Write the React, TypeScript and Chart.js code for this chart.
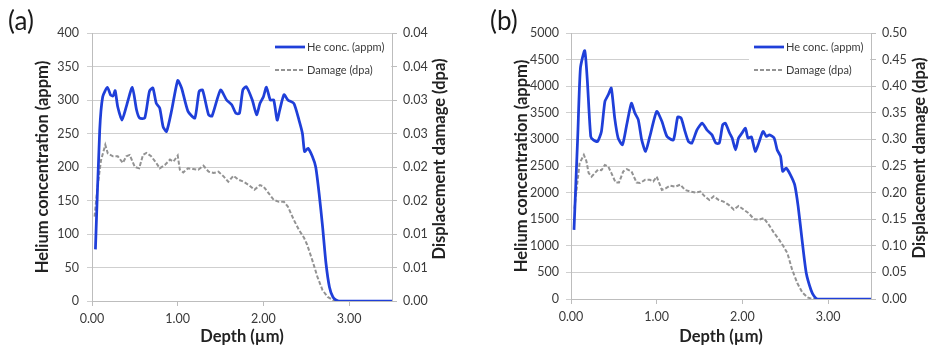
import React, { useEffect, useRef } from "react";
import { Chart, registerables } from "chart.js";

Chart.register(...registerables);

const FONT = "Lato, 'Open Sans', sans-serif";
const BLUE = "#1f3fd9";
const GRAY = "#939393";
const GRID = "#cfcfcf";
const AXIS = "#bdbdbd";
const TICK_TEXT = "#3a3a3a";
const TITLE_TEXT = "#222222";
const TITLE_SIZE = 16.5;

// ---------- tick values / labels ----------
const depthTicks = [0, 1, 2, 3];
const depthTickLabels = ["0.00", "1.00", "2.00", "3.00"];

const heTicksA = [0, 50, 100, 150, 200, 250, 300, 350, 400];
const heTickLabelsA = ["0", "50", "100", "150", "200", "250", "300", "350", "400"];
const dpaTicksA = [0, 0.005, 0.01, 0.015, 0.02, 0.025, 0.03, 0.035, 0.04];
const dpaTickLabelsA = ["0.00", "0.01", "0.01", "0.02", "0.02", "0.03", "0.03", "0.04", "0.04"];

const heTicksB = [0, 500, 1000, 1500, 2000, 2500, 3000, 3500, 4000, 4500, 5000];
const heTickLabelsB = ["0", "500", "1000", "1500", "2000", "2500", "3000", "3500", "4000", "4500", "5000"];
const dpaTicksB = [0, 0.05, 0.1, 0.15, 0.2, 0.25, 0.3, 0.35, 0.4, 0.45, 0.5];
const dpaTickLabelsB = ["0.00", "0.05", "0.10", "0.15", "0.20", "0.25", "0.30", "0.35", "0.40", "0.45", "0.50"];

// ---------- panel (a) data ----------
const heDepthA = [0.04, 0.09, 0.125, 0.18, 0.215, 0.245, 0.27, 0.3, 0.35, 0.4, 0.47, 0.52, 0.555, 0.615, 0.67, 0.71, 0.75, 0.79, 0.83, 0.87, 0.93, 1.0, 1.045, 1.12, 1.2, 1.25, 1.29, 1.36, 1.4, 1.5, 1.57, 1.63, 1.68, 1.72, 1.76, 1.8, 1.87, 1.92, 1.96, 2.0, 2.035, 2.08, 2.12, 2.16, 2.19, 2.24, 2.285, 2.355, 2.415, 2.455, 2.48, 2.52, 2.57, 2.61, 2.65, 2.69, 2.73, 2.77, 2.81, 2.845, 2.88, 3.0, 3.5];
const heConcA = [77, 255, 305, 319, 308, 306, 314, 290, 270, 290, 319, 285, 273, 273, 313, 318, 295, 288, 260, 253, 285, 329, 318, 283, 273, 313, 315, 278, 276, 315, 300, 293, 280, 280, 315, 320, 300, 278, 295, 305, 319, 300, 300, 270, 285, 308, 300, 295, 270, 250, 223, 228, 216, 200, 160, 111, 56, 21, 6, 1.5, 0, 0, 0];

const dmgDepthA = [0.03, 0.065, 0.105, 0.155, 0.185, 0.245, 0.3, 0.36, 0.4, 0.44, 0.5, 0.55, 0.595, 0.635, 0.69, 0.75, 0.79, 0.85, 0.91, 0.95, 1.0, 1.025, 1.065, 1.12, 1.18, 1.24, 1.3, 1.36, 1.42, 1.475, 1.535, 1.59, 1.65, 1.71, 1.77, 1.83, 1.895, 1.96, 2.0, 2.06, 2.12, 2.18, 2.24, 2.285, 2.355, 2.415, 2.475, 2.51, 2.57, 2.63, 2.69, 2.75, 2.81, 2.865, 3.0, 3.5];
const dmgA = [0.0126, 0.0171, 0.021, 0.0233, 0.022, 0.0216, 0.0216, 0.0206, 0.0216, 0.0218, 0.02, 0.0198, 0.0218, 0.0221, 0.0216, 0.0206, 0.0198, 0.0203, 0.0211, 0.0208, 0.0217, 0.0196, 0.0192, 0.0198, 0.0197, 0.0196, 0.0202, 0.0193, 0.0191, 0.0193, 0.0186, 0.0178, 0.0187, 0.0181, 0.0178, 0.0173, 0.0166, 0.0173, 0.0171, 0.0161, 0.0151, 0.0148, 0.0148, 0.0141, 0.0121, 0.0106, 0.0094, 0.0084, 0.0061, 0.0036, 0.0016, 0.0006, 0.00015, 0, 0, 0];

// ---------- panel (b) data ----------
const heDepthB = [0.035, 0.08, 0.11, 0.16, 0.19, 0.23, 0.26, 0.31, 0.355, 0.395, 0.435, 0.47, 0.51, 0.55, 0.6, 0.65, 0.705, 0.745, 0.785, 0.825, 0.87, 0.92, 1.0, 1.06, 1.12, 1.195, 1.245, 1.285, 1.33, 1.37, 1.41, 1.47, 1.53, 1.585, 1.645, 1.69, 1.73, 1.77, 1.8, 1.85, 1.88, 1.92, 1.955, 1.995, 2.035, 2.065, 2.105, 2.15, 2.19, 2.24, 2.28, 2.315, 2.37, 2.405, 2.445, 2.47, 2.51, 2.56, 2.61, 2.65, 2.7, 2.745, 2.8, 2.835, 2.875, 3.0, 3.5];
const heConcB = [1300, 3120, 4340, 4670, 4120, 3055, 2990, 2960, 3150, 3710, 3840, 3965, 3400, 3025, 2900, 3275, 3680, 3495, 3370, 2990, 2775, 3055, 3525, 3340, 3055, 2990, 3420, 3400, 3150, 2960, 2930, 3180, 3305, 3180, 3085, 2930, 2930, 3275, 3305, 3120, 3025, 2805, 3025, 3120, 3210, 3025, 3045, 2775, 2930, 3150, 3055, 3085, 3025, 2805, 2680, 2400, 2460, 2335, 2145, 1740, 1050, 485, 170, 56, 0, 0, 0];

const dmgDepthB = [0.04, 0.1, 0.15, 0.18, 0.205, 0.24, 0.28, 0.315, 0.355, 0.395, 0.435, 0.47, 0.52, 0.56, 0.61, 0.65, 0.705, 0.765, 0.805, 0.865, 0.92, 0.96, 1.0, 1.06, 1.105, 1.155, 1.215, 1.275, 1.33, 1.39, 1.45, 1.51, 1.56, 1.615, 1.665, 1.725, 1.78, 1.84, 1.9, 1.955, 2.015, 2.075, 2.135, 2.19, 2.25, 2.31, 2.37, 2.43, 2.475, 2.525, 2.58, 2.64, 2.7, 2.76, 2.815, 3.0, 3.5];
const dmgB = [0.17, 0.255, 0.271, 0.259, 0.237, 0.23, 0.237, 0.243, 0.242, 0.252, 0.249, 0.237, 0.219, 0.219, 0.24, 0.244, 0.24, 0.219, 0.218, 0.224, 0.224, 0.221, 0.23, 0.205, 0.208, 0.213, 0.211, 0.215, 0.205, 0.202, 0.2, 0.202, 0.193, 0.186, 0.193, 0.186, 0.183, 0.177, 0.168, 0.175, 0.168, 0.161, 0.15, 0.149, 0.152, 0.139, 0.124, 0.111, 0.1, 0.086, 0.055, 0.03, 0.012, 0.003, 0, 0, 0];

function zip(xs: number[], ys: number[]) {
  return xs.map((x, i) => ({ x, y: ys[i] }));
}

const legendPlugin = {
  id: "insideLegend",
  afterDatasetsDraw(chart: any) {
    const { ctx, chartArea } = chart;
    const r = chartArea.right;
    const t = chartArea.top;
    ctx.save();
    ctx.fillStyle = "#ffffff";
    ctx.fillRect(r - 122, t + 5, 121, 44);
    chart.data.datasets.forEach((ds: any, i: number) => {
      const y = t + 14 + i * 23;
      ctx.strokeStyle = ds.borderColor;
      ctx.lineWidth = ds.borderWidth;
      ctx.setLineDash(ds.borderDash || []);
      ctx.beginPath();
      ctx.moveTo(r - 117, y);
      ctx.lineTo(r - 87, y);
      ctx.stroke();
      ctx.setLineDash([]);
      ctx.fillStyle = TICK_TEXT;
      ctx.font = `11px ${FONT}`;
      ctx.textBaseline = "middle";
      ctx.textAlign = "left";
      ctx.fillText(ds.label, r - 85, y);
    });
    ctx.restore();
  },
};

const decorPlugin = {
  id: "decor",
  afterDraw(chart: any, _args: any, opts: any) {
    const { ctx, chartArea } = chart;
    ctx.save();
    ctx.fillStyle = "#1a1a1a";
    ctx.font = `26px ${FONT}`;
    ctx.textBaseline = "middle";
    ctx.textAlign = "left";
    ctx.fillText(opts.label, opts.labelX, 22);
    ctx.translate(opts.rightX, (chartArea.top + chartArea.bottom) / 2 - 8);
    ctx.rotate(-Math.PI / 2);
    ctx.fillStyle = TITLE_TEXT;
    ctx.font = `bold ${TITLE_SIZE}px ${FONT}`;
    ctx.textAlign = "center";
    ctx.fillText(opts.rightTitle, 0, 0);
    ctx.restore();
  },
};

type Panel = {
  label: string;
  labelX: number;
  heDepth: number[];
  heConc: number[];
  dmgDepth: number[];
  dmg: number[];
  heTicks: number[];
  heTickLabels: string[];
  dpaTicks: number[];
  dpaTickLabels: string[];
  padLeft: number;
  padRight: number;
  leftW: number;
  rightW: number;
  xH: number;
  leftPad: number;
  rightPad: number;
  rightX: number;
};

function tickFont() {
  return { family: FONT, size: 12.5 };
}

function buildConfig(p: Panel): any {
  const heMax = p.heTicks[p.heTicks.length - 1];
  const dpaMax = p.dpaTicks[p.dpaTicks.length - 1];
  const titleFont = { family: FONT, size: TITLE_SIZE, weight: "bold" };
  return {
    type: "line",
    data: {
      datasets: [
        {
          label: "He conc. (appm)",
          data: zip(p.heDepth, p.heConc),
          borderColor: BLUE,
          borderWidth: 2.75,
          pointRadius: 0,
          tension: 0.2,
          yAxisID: "y",
        },
        {
          label: "Damage (dpa)",
          data: zip(p.dmgDepth, p.dmg),
          borderColor: GRAY,
          borderWidth: 2,
          borderDash: [4, 2],
          pointRadius: 0,
          tension: 0,
          yAxisID: "y2",
        },
      ],
    },
    options: {
      animation: false,
      responsive: false,
      events: [],
      layout: { padding: { left: p.padLeft, right: p.padRight, top: 33, bottom: 0 } },
      plugins: {
        legend: { display: false },
        tooltip: { enabled: false },
        decor: { label: p.label, labelX: p.labelX, rightTitle: "Displacement damage (dpa)", rightX: p.rightX },
      },
      scales: {
        x: {
          type: "linear",
          min: 0,
          max: 3.5,
          afterBuildTicks: (s: any) => {
            s.ticks = depthTicks.map((v) => ({ value: v }));
          },
          afterFit: (s: any) => {
            s.height = p.xH;
          },
          grid: { drawOnChartArea: false, drawTicks: true, tickLength: 5, color: AXIS },
          border: { color: AXIS },
          ticks: {
            callback: (_v: any, i: number) => depthTickLabels[i],
            font: tickFont(),
            color: TICK_TEXT,
            padding: 5,
            maxRotation: 0,
            autoSkip: false,
          },
          title: {
            display: true,
            text: "Depth (µm)",
            font: titleFont,
            color: TITLE_TEXT,
            padding: { top: 0, bottom: 0 },
          },
        },
        y: {
          position: "left",
          min: 0,
          max: heMax,
          afterBuildTicks: (s: any) => {
            s.ticks = p.heTicks.map((v) => ({ value: v }));
          },
          afterFit: (s: any) => {
            s.width = p.leftW;
          },
          grid: { color: GRID, tickLength: 5, drawTicks: true },
          border: { color: AXIS },
          ticks: {
            callback: (_v: any, i: number) => p.heTickLabels[i],
            font: tickFont(),
            color: TICK_TEXT,
            padding: p.leftPad,
            autoSkip: false,
          },
          title: {
            display: true,
            text: "Helium concentration (appm)",
            font: titleFont,
            color: TITLE_TEXT,
            padding: { top: 0, bottom: 0 },
          },
        },
        y2: {
          position: "right",
          min: 0,
          max: dpaMax,
          afterBuildTicks: (s: any) => {
            s.ticks = p.dpaTicks.map((v) => ({ value: v }));
          },
          afterFit: (s: any) => {
            s.width = p.rightW;
          },
          grid: { drawOnChartArea: false, tickLength: 5, drawTicks: true, color: AXIS },
          border: { color: AXIS },
          ticks: {
            callback: (_v: any, i: number) => p.dpaTickLabels[i],
            font: tickFont(),
            color: TICK_TEXT,
            padding: p.rightPad,
            autoSkip: false,
          },
          title: { display: false },
        },
      },
    },
    plugins: [legendPlugin, decorPlugin],
  };
}

const panelA: Panel = {
  label: "(a)",
  labelX: 8,
  heDepth: heDepthA,
  heConc: heConcA,
  dmgDepth: dmgDepthA,
  dmg: dmgA,
  heTicks: heTicksA,
  heTickLabels: heTickLabelsA,
  dpaTicks: dpaTicksA,
  dpaTickLabels: dpaTickLabelsA,
  padLeft: 33,
  padRight: 15,
  leftW: 59,
  rightW: 58,
  xH: 46,
  leftPad: 8,
  rightPad: 6,
  rightX: 440,
};

const panelB: Panel = {
  label: "(b)",
  labelX: 25,
  heDepth: heDepthB,
  heConc: heConcB,
  dmgDepth: dmgDepthB,
  dmg: dmgB,
  heTicks: heTicksB,
  heTickLabels: heTickLabelsB,
  dpaTicks: dpaTicksB,
  dpaTickLabels: dpaTickLabelsB,
  padLeft: 47,
  padRight: 0,
  leftW: 59,
  rightW: 58,
  xH: 48,
  leftPad: 7,
  rightPad: 6,
  rightX: 455,
};

function PanelChart({ panel, left, width }: { panel: Panel; left: number; width: number }) {
  const ref = useRef<HTMLCanvasElement | null>(null);
  useEffect(() => {
    if (!ref.current) return;
    const chart = new Chart(ref.current, buildConfig(panel));
    return () => chart.destroy();
  }, [panel]);
  return (
    <canvas
      ref={ref}
      width={width}
      height={347}
      style={{ position: "absolute", left, top: 0, width, height: 347 }}
    />
  );
}

export default function App() {
  return (
    <div style={{ position: "absolute", left: 0, top: 0, width: 929, height: 347, background: "#fff" }}>
      <PanelChart panel={panelA} left={0} width={465} />
      <PanelChart panel={panelB} left={465} width={464} />
    </div>
  );
}
